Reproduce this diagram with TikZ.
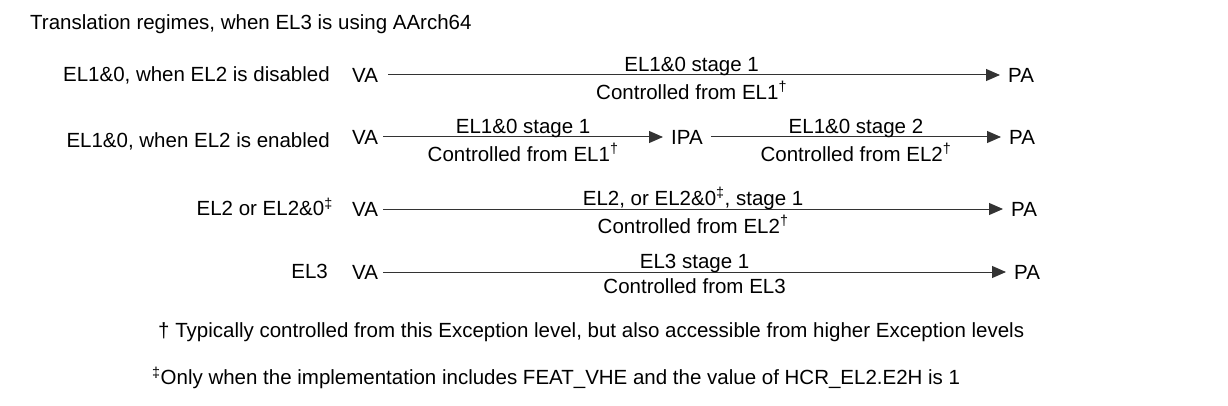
\documentclass[tikz,border=0pt]{standalone}
\usepackage{fontspec}
\setmainfont{Liberation Sans}
\usetikzlibrary{arrows.meta}
\begin{document}
\begin{tikzpicture}[x=1pt,y=-1pt,
  every node/.style={font=\fontsize{20.5}{24}\selectfont, inner sep=0pt, text=black},
  addr/.style={inner xsep=5pt},
  dest/.style={inner xsep=8pt},
  txt/.style={},
  conn/.style={draw=black!80, line width=1pt, -{Triangle[length=14pt,width=12pt]}},
  up/.style={above=-1pt},
  dn/.style={below=6pt}]
\useasboundingbox (0,0) rectangle (1228,406);
\newcommand{\dg}{\textsuperscript{†}}
\newcommand{\ddg}{\textsuperscript{‡}}
% title
\node[txt, anchor=west] (title) at (30,24) {Translation regimes, when EL3 is using AArch64};
% row 1
\node[txt, anchor=east] (l1) at (330,75) {EL1\&0, when EL2 is disabled};
\node[addr, anchor=west] (va1) at (347,75) {VA};
\node[dest, anchor=west] (pa1) at (1000,75) {PA};
\draw[conn, shorten <=5pt] (va1) -- node[up] (s1a) {EL1\&0 stage 1} node[dn] (c1a) {Controlled from EL1\dg} (pa1);
% row 2
\node[txt, anchor=east] (l2) at (330,141) {EL1\&0, when EL2 is enabled};
\node[addr, anchor=west] (va2) at (347,137) {VA};
\node[dest, anchor=west] (ipa2) at (663,137) {IPA};
\node[dest, anchor=west] (pa2) at (1001,137) {PA};
\draw[conn] (va2) -- node[up] (s2a) {EL1\&0 stage 1} node[dn] (c2a) {Controlled from EL1\dg} (ipa2);
\draw[conn] (ipa2) -- node[up] (s2b) {EL1\&0 stage 2} node[dn] (c2b) {Controlled from EL2\dg} (pa2);
% row 3
\node[txt, anchor=east] (l3) at (333,207) {EL2 or EL2\&0\ddg};
\node[addr, anchor=west] (va3) at (347,209) {VA};
\node[dest, anchor=west] (pa3) at (1003,209) {PA};
\draw[conn] (va3) -- node[up] (s3a) {EL2, or EL2\&0\ddg, stage 1} node[dn] (c3a) {Controlled from EL2\dg} (pa3);
% row 4
\node[txt, anchor=east] (l4) at (328,271) {EL3};
\node[addr, anchor=west] (va4) at (347,272) {VA};
\node[dest, anchor=west] (pa4) at (1006,272) {PA};
\draw[conn] (va4) -- node[up] (s4a) {EL3 stage 1} node[dn] (c4a) {Controlled from EL3} (pa4);
% footnotes
\node[txt, anchor=west] (f1) at (158,332) {† Typically controlled from this Exception level, but also accessible from higher Exception levels};
\node[txt, anchor=west] (f2) at (152,378) {\ddg Only when the implementation includes FEAT\_VHE and the value of HCR\_EL2.E2H is 1};
\end{tikzpicture}
\end{document}
